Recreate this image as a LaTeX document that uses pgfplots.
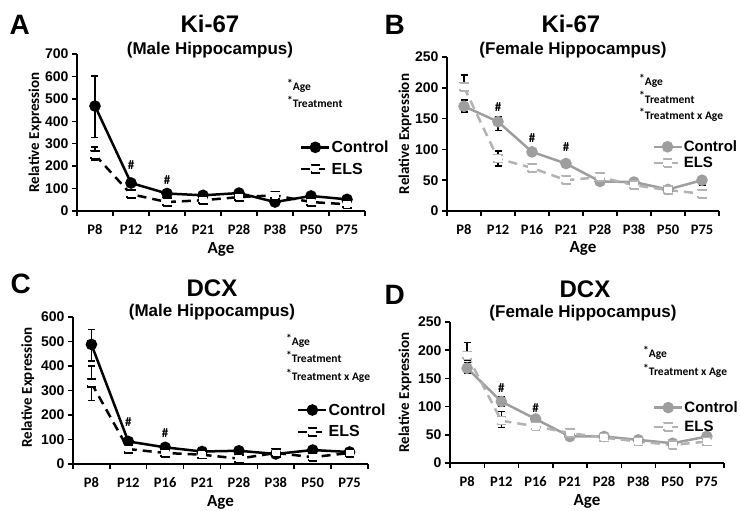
\documentclass[border=0pt]{standalone}
\usepackage{fontspec}
\setmainfont{Liberation Sans}
\newfontfamily\calfont{Carlito}
\usepackage{pgfplots}
\pgfplotsset{compat=1.18}
\definecolor{cg}{RGB}{158,158,158}
\definecolor{eg}{RGB}{178,178,178}
\newcommand\tfont{\bfseries\fontsize{24}{26}\selectfont}
\newcommand\sfont{\bfseries\fontsize{17}{19}\selectfont}
\newcommand\lfont{\bfseries\fontsize{28}{30}\selectfont}
\newcommand\afont{\calfont\bfseries\fontsize{11.5}{13}\selectfont}
\newcommand\hfont{\calfont\bfseries\fontsize{13}{14}\selectfont}
\pgfplotsset{
 panel/.style={
   scale only axis,
   axis lines*=left,
   axis line style={line width=2pt},
   xmin=-0.5, xmax=7.5, ymin=0,
   xtick={0,...,7},
   xticklabels={P8,P12,P16,P21,P28,P38,P50,P75},
   major x tick style={draw=none},
   minor xtick={-0.5,0.5,...,7.5},
   minor tick length=5pt,
   major tick length=5pt,
   tick align=outside,
   tick style={line width=1.5pt, black},
   /pgf/number format/assume math mode=true,
   xticklabel style={font=\calfont\bfseries\fontsize{14.5}{15}\selectfont, anchor=base, yshift=-18pt},
   yticklabel style={font=\bfseries\fontsize{14}{15}\selectfont},
   xlabel={Age},
   ylabel={Relative Expression},
   xlabel style={font=\calfont\bfseries\fontsize{17}{18}\selectfont, anchor=base},
   ylabel style={font=\calfont\bfseries\fontsize{15}{16}\selectfont, anchor=center},
   legend style={draw=none, fill=none, font=\bfseries\fontsize{16}{18}\selectfont, cells={anchor=west}, inner sep=0pt, nodes={inner sep=1pt}},
   legend image code/.code={\draw[mark repeat=2,mark phase=2,##1] plot coordinates {(0pt,0pt) (14pt,0pt) (28pt,0pt)};},
   clip=false,
 },
 ctrlK/.style={black, line width=2.5pt, mark=*, mark size=4.5pt, mark options={solid}},
 elsK/.style={black, line width=2.5pt, dash pattern=on 9pt off 6pt, mark=square*, mark size=4pt, mark options={fill=white, line width=1.5pt}},
 ctrlG/.style={cg, line width=2.5pt, mark=*, mark size=4.5pt, mark options={solid}},
 elsG/.style={eg, line width=2.5pt, dash pattern=on 9pt off 6pt, mark=square*, mark size=4pt, mark options={fill=white, line width=1.5pt}},
 errb/.style={forget plot, draw=none, mark=none, error bars/.cd, y dir=both, y explicit, error mark=-, error bar style={draw=black, solid, line width=1.5pt}, error mark options={draw=black, solid, line width=1.5pt, mark size=3.5pt, rotate=90}},
}
\begin{document}
\begin{tikzpicture}
\path[use as bounding box] (0pt,0pt) rectangle (740pt,-511pt);

% ---------- A ----------
\begin{axis}[panel, at={(77pt,-211pt)}, anchor=south west, width=288pt, height=157pt,
  ymax=700, ytick={0,100,...,700},
  ylabel style={at={(axis description cs:-0.146,0.5)}},
  xlabel style={at={(axis description cs:0.5,-0.27)}},
  legend style={at={(axis description cs:0.774,0.455)}, anchor=north west, row sep=7pt}]
\addplot[ctrlK] coordinates {(0,468) (1,125) (2,78) (3,70) (4,80) (5,40) (6,67) (7,52)};
\addlegendentry{Control}
\addplot[elsK] coordinates {(0,250) (1,75) (2,40) (3,48) (4,62) (5,70) (6,40) (7,30)};
\addlegendentry{ELS}
\addplot[errb] coordinates {(0,468) += (0,134) -= (0,140) (0,250) += (0,36) -= (0,22) (1,125) += (0,8) -= (0,8)};
\node[font=\hfont] at (axis cs:1,205) {\#};
\node[font=\hfont] at (axis cs:2,138) {\#};
\end{axis}

% ---------- B ----------
\begin{axis}[panel, at={(447pt,-211pt)}, anchor=south west, width=272pt, height=154pt,
  ymax=250, ytick={0,50,...,250},
  ylabel style={at={(axis description cs:-0.154,0.5)}},
  xlabel style={at={(axis description cs:0.5,-0.27)}},
  legend style={at={(axis description cs:0.754,0.465)}, anchor=north west, row sep=2pt, font=\bfseries\fontsize{15}{17}\selectfont}]
\addplot[ctrlG] coordinates {(0,170) (1,145) (2,96) (3,77) (4,48) (5,47) (6,35) (7,50)};
\addlegendentry{Control}
\addplot[elsG] coordinates {(0,201) (1,85) (2,70) (3,50) (4,55) (5,42) (6,34) (7,28)};
\addlegendentry{ELS}
\addplot[errb] coordinates {(0,170) += (0,10) -= (0,9) (1,145) += (0,8) -= (0,14) (7,50) += (0,5) -= (0,8) (0,201) += (0,20) -= (0,5) (1,85) += (0,12) -= (0,12)};
\node[font=\hfont] at (axis cs:1,169) {\#};
\node[font=\hfont] at (axis cs:2,119) {\#};
\node[font=\hfont] at (axis cs:3,104) {\#};
\end{axis}

% ---------- C ----------
\begin{axis}[panel, at={(73pt,-464pt)}, anchor=south west, width=295pt, height=147pt,
  ymax=600, ytick={0,100,...,600},
  ylabel style={at={(axis description cs:-0.153,0.52)}},
  xlabel style={at={(axis description cs:0.5,-0.29)}},
  legend style={at={(axis description cs:0.759,0.42)}, anchor=north west, row sep=7pt}]
\addplot[ctrlK] coordinates {(0,488) (1,92) (2,68) (3,51) (4,54) (5,41) (6,57) (7,49)};
\addlegendentry{Control}
\addplot[elsK] coordinates {(0,330) (1,61) (2,45) (3,38) (4,22) (5,45) (6,28) (7,45)};
\addlegendentry{ELS}
\addplot[errb] coordinates {(0,488) += (0,62) -= (0,68) (0,330) += (0,70) -= (0,70)};
\node[font=\hfont] at (axis cs:1,171) {\#};
\node[font=\hfont] at (axis cs:2,126) {\#};
\end{axis}

% ---------- D ----------
\begin{axis}[panel, at={(450pt,-463pt)}, anchor=south west, width=274pt, height=141pt,
  ymax=250, ytick={0,50,...,250},
  ylabel style={at={(axis description cs:-0.164,0.5)}},
  xlabel style={at={(axis description cs:0.5,-0.30)}},
  legend style={at={(axis description cs:0.74,0.445)}, anchor=north west, row sep=5pt, font=\bfseries\fontsize{15}{17}\selectfont}]
\addplot[ctrlG] coordinates {(0,168) (1,109) (2,78) (3,47) (4,47) (5,41) (6,35) (7,47)};
\addlegendentry{Control}
\addplot[elsG] coordinates {(0,191) (1,75) (2,65) (3,53) (4,45) (5,38) (6,32) (7,38)};
\addlegendentry{ELS}
\addplot[errb] coordinates {(0,168) += (0,10) -= (0,8) (1,109) += (0,9) -= (0,9) (0,191) += (0,23) -= (0,8) (1,75) += (0,16) -= (0,12)};
\node[font=\hfont] at (axis cs:1,133) {\#};
\node[font=\hfont] at (axis cs:2,97) {\#};
\end{axis}

% ---------- titles and letters ----------
\node[anchor=base west, font=\lfont] at (6pt,-35pt) {A};
\node[anchor=base west, font=\lfont] at (381pt,-35pt) {B};
\node[anchor=base west, font=\lfont] at (7pt,-293pt) {C};
\node[anchor=base west, font=\lfont] at (381pt,-304pt) {D};

\node[anchor=base, font=\tfont] at (210pt,-33pt) {Ki-67};
\node[anchor=base, font=\sfont] at (210pt,-55pt) {(Male Hippocampus)};
\node[anchor=base, font=\tfont] at (571pt,-33pt) {Ki-67};
\node[anchor=base, font=\sfont] at (573pt,-55pt) {(Female Hippocampus)};
\node[anchor=base, font=\tfont] at (212pt,-296pt) {DCX};
\node[anchor=base, font=\sfont] at (212pt,-316pt) {(Male Hippocampus)};
\node[anchor=base, font=\tfont] at (585pt,-297pt) {DCX};
\node[anchor=base, font=\sfont] at (583pt,-317pt) {(Female Hippocampus)};

% ---------- effect annotations ----------
\node[anchor=base west, font=\afont, inner sep=0pt] at (287pt,-91pt) {\raisebox{3pt}{*}Age};
\node[anchor=base west, font=\afont, inner sep=0pt] at (287pt,-108pt) {\raisebox{3pt}{*}Treatment};
\node[anchor=base west, font=\afont, inner sep=0pt] at (639pt,-86pt) {\raisebox{3pt}{*}Age};
\node[anchor=base west, font=\afont, inner sep=0pt] at (639pt,-103pt) {\raisebox{3pt}{*}Treatment};
\node[anchor=base west, font=\afont, inner sep=0pt] at (639pt,-120pt) {\raisebox{3pt}{*}Treatment x Age};
\node[anchor=base west, font=\afont, inner sep=0pt] at (286pt,-345pt) {\raisebox{3pt}{*}Age};
\node[anchor=base west, font=\afont, inner sep=0pt] at (286pt,-362pt) {\raisebox{3pt}{*}Treatment};
\node[anchor=base west, font=\afont, inner sep=0pt] at (286pt,-380pt) {\raisebox{3pt}{*}Treatment x Age};
\node[anchor=base west, font=\afont, inner sep=0pt] at (643pt,-357pt) {\raisebox{3pt}{*}Age};
\node[anchor=base west, font=\afont, inner sep=0pt] at (643pt,-375pt) {\raisebox{3pt}{*}Treatment x Age};
\end{tikzpicture}
\end{document}
